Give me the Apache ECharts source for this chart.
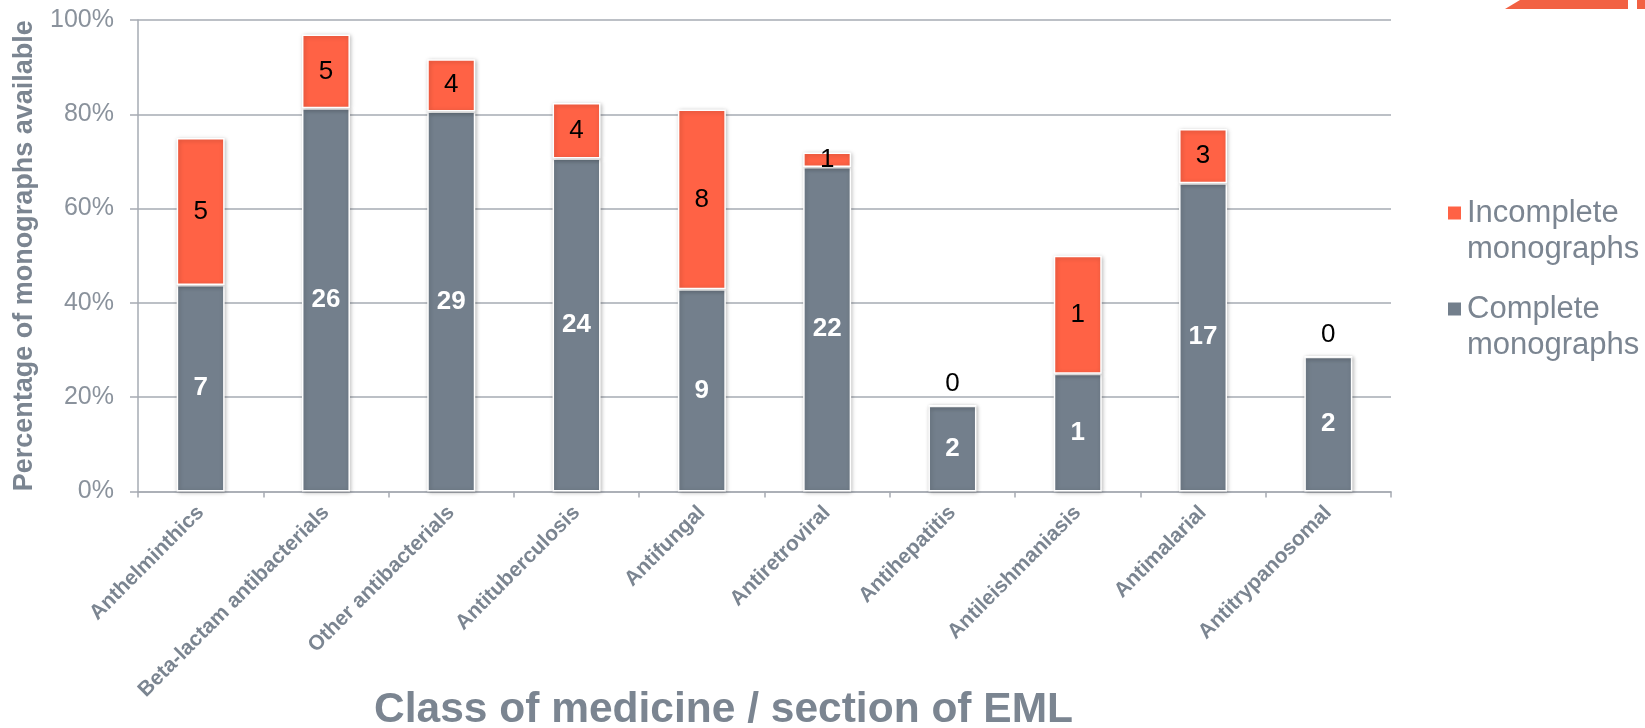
<!DOCTYPE html>
<html>
<head>
<meta charset="utf-8">
<title>Monographs available by class of medicine</title>
<script src="https://cdn.jsdelivr.net/npm/echarts@6/dist/echarts.min.js"></script>
<style>
    html, body {
        margin: 0;
        padding: 0;
        background-color: white;
    }
    #chart {
        width: 1645px;
        height: 728px;
    }
</style>
</head>
<body>
<div id="chart"></div>
<script>
    // categories on the x axis
    var categories = ['Anthelminthics', 'Beta-lactam antibacterials', 'Other antibacterials',
        'Antituberculosis', 'Antifungal', 'Antiretroviral', 'Antihepatitis',
        'Antileishmaniasis', 'Antimalarial', 'Antitrypanosomal'];

    // bar heights in percent
    var completePct = [43.8, 81.3, 80.6, 70.6, 42.9, 68.8, 18.2, 25.0, 65.4, 28.6];
    var incompletePct = [31.2, 15.6, 11.1, 11.8, 38.1, 3.1, 0, 25.0, 11.5, 0];

    // numbers printed on the bars
    var completeCount = [7, 26, 29, 24, 9, 22, 2, 1, 17, 2];
    var incompleteCount = [5, 5, 4, 4, 8, 1, 0, 1, 3, 0];

    var yTicks = [0, 20, 40, 60, 80, 100];

    var grey = '#737f8c';
    var orange = '#ff6245';
    var axisGrey = '#a6abb3';
    var textGrey = '#7b8591';
    var font = 'Liberation Sans, Arial, sans-serif';

    var barStyle = {
        borderColor: '#ffffff',
        borderWidth: 1.5,
        shadowBlur: 4,
        shadowColor: 'rgba(0,0,0,0.25)',
        shadowOffsetX: 1,
        shadowOffsetY: 1
    };

    var chart = echarts.init(document.getElementById('chart'));

    chart.setOption({
        animation: false,
        textStyle: {fontFamily: font},
        title: {
            text: 'Class of medicine / section of EML',
            left: 374,
            top: 689,
            padding: 0,
            textStyle: {
                fontFamily: font,
                fontSize: 42.5,
                fontWeight: 'bold',
                color: textGrey
            }
        },
        legend: {
            orient: 'vertical',
            left: 1441,
            top: 154,
            itemWidth: 15,
            itemHeight: 15,
            itemGap: -12,
            icon: 'rect',
            data: ['Incomplete monographs', 'Complete monographs'],
            // blank first line so the square lines up with the first word
            formatter: function (name) {
                return ' \n' + name.replace(' ', '\n');
            },
            textStyle: {
                fontFamily: font,
                fontSize: 31,
                lineHeight: 36,
                color: textGrey
            }
        },
        grid: {
            left: 138,
            right: 254,
            top: 20,
            bottom: 236.5
        },
        xAxis: {
            type: 'category',
            data: categories,
            axisLine: {lineStyle: {color: axisGrey, width: 1.5}},
            axisTick: {show: true, length: 6, lineStyle: {color: axisGrey, width: 1.5}},
            axisLabel: {
                rotate: 45,
                interval: 0,
                margin: 18,
                fontFamily: font,
                fontSize: 21,
                fontWeight: 'bold',
                color: textGrey
            }
        },
        yAxis: {
            type: 'value',
            min: yTicks[0],
            max: yTicks[yTicks.length - 1],
            interval: 20,
            name: 'Percentage of monographs available',
            nameLocation: 'middle',
            nameGap: 100,
            nameTextStyle: {
                fontFamily: font,
                fontSize: 27,
                fontWeight: 'bold',
                color: textGrey
            },
            axisLine: {show: true, lineStyle: {color: axisGrey, width: 1.5}},
            axisTick: {show: true, length: 8, lineStyle: {color: axisGrey, width: 1.5}},
            splitLine: {lineStyle: {color: axisGrey, width: 1.5}},
            axisLabel: {
                formatter: '{value}%',
                margin: 24,
                fontFamily: font,
                fontSize: 25,
                color: '#8a929c'
            }
        },
        series: [{
            name: 'Complete monographs',
            type: 'bar',
            stack: 'total',
            barWidth: 48,
            itemStyle: Object.assign({color: grey}, barStyle),
            label: {
                show: true,
                position: 'inside',
                fontFamily: font,
                fontSize: 26,
                fontWeight: 'bold',
                color: '#ffffff',
                formatter: function (p) {
                    return completeCount[p.dataIndex];
                }
            },
            data: completePct
        }, {
            name: 'Incomplete monographs',
            type: 'bar',
            stack: 'total',
            barWidth: 48,
            itemStyle: Object.assign({color: orange}, barStyle),
            label: {
                show: true,
                position: 'inside',
                fontFamily: font,
                fontSize: 26,
                color: '#000000',
                formatter: function (p) {
                    return incompleteCount[p.dataIndex];
                }
            },
            data: incompletePct.map(function (v) {
                if (v === 0) {
                    // nothing to fill, so the count sits above the grey bar
                    return {value: v, label: {position: 'top', distance: 8}};
                }
                return v;
            })
        }],
        graphic: [{
            // corner of a logo cut off at the top right
            type: 'polygon',
            shape: {points: [[1505, 9], [1520, 0], [1628, 0], [1628, 9]]},
            style: {fill: '#f26143'}
        }, {
            type: 'rect',
            shape: {x: 1637, y: 0, width: 8, height: 9},
            style: {fill: '#f26143'}
        }]
    });
</script>
</body>
</html>
